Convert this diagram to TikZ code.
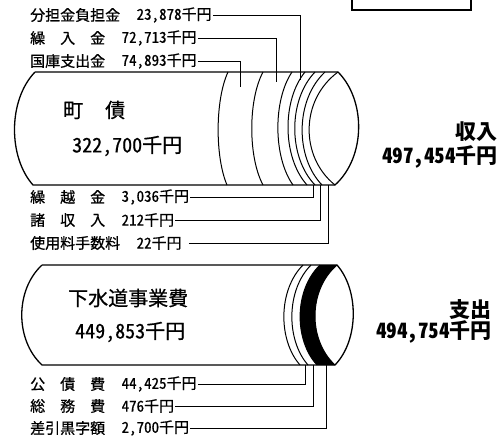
\documentclass[tikz,border=0pt]{standalone}
\usepackage{fontspec}
\setmainfont{Noto Sans CJK JP}[RawFeature=+hwid]
\newfontfamily\inkfont{Noto Sans CJK JP}[RawFeature=+hwid,FakeBold=0.7]
\usetikzlibrary{positioning}

\begin{document}
\begin{tikzpicture}[x=1pt,y=-1pt]
\tikzset{shell/.style={line width=1.3pt,line join=round}}
\tikzset{band/.style={line width=1pt}}
\tikzset{lead/.style={line width=0.8pt}}
\tikzset{item/.style={anchor=west,inner sep=0pt,font=\inkfont\fontsize{15}{15}\selectfont}}
\tikzset{amount/.style={inner ysep=0pt,inner xsep=1pt,font=\inkfont\fontsize{15}{15}\selectfont}}
\tikzset{big/.style={inner sep=0pt,font=\inkfont\fontsize{20}{20}\selectfont}}
\tikzset{total/.style={anchor=east,inner sep=0pt,font=\fontsize{21}{21}\selectfont\bfseries}}

\useasboundingbox (0,0) rectangle (500,440);

\draw[line width=1.5pt] (352,0) -- (352,10) -- (471,10) -- (471,0);

\draw[shell] (35,72) -- (338,72) .. controls (366,100) and (366,157) .. (335,185)
  -- (33,185) .. controls (8,157) and (8,100) .. (35,72);
\draw[band] (228,72) .. controls (215,100) and (215,157) .. (227,185);
\draw[band] (263,72) .. controls (248,100) and (248,157) .. (263,185);
\draw[band] (292,72) .. controls (273,100) and (273,157) .. (293,185);
\draw[band] (305,72) .. controls (282,100) and (282,157) .. (307,185);
\draw[band] (315,72) .. controls (288,100) and (288,157) .. (315,185);
\draw[band] (325,72) .. controls (295,100) and (295,157) .. (322,185);
\draw[band] (338,72) .. controls (300,100) and (300,157) .. (335,185);

\draw[shell] (42,265) -- (337,265) .. controls (359,290) and (359,340) .. (335,365)
  -- (42,365) .. controls (15,340) and (15,290) .. (42,265);
\fill (320,265) .. controls (294,290) and (294,340) .. (317,365)
  -- (335,365) .. controls (308,340) and (308,290) .. (337,265) -- cycle;
\draw[band] (303,265) .. controls (278,290) and (278,340) .. (300,365);
\draw[band] (311,265) .. controls (286,290) and (286,340) .. (308,365);
\draw[band] (320,265) .. controls (294,290) and (294,340) .. (317,365);
\draw[band] (337,265) .. controls (308,290) and (308,340) .. (335,365);

\node[big,anchor=west] (chosai) at (63,110) {\makebox[62pt]{町\hfill{}債}};
\node[big,anchor=west] (chosaiv) at (72,146) {322,700千円};
\node[big,anchor=west] (jigyo) at (68,298) {下水道事業費};
\node[big,anchor=west] (jigyov) at (75,332) {449,853千円};

\node[total] (shunyu) at (498,132) {収入};
\node[total] (shunyuv) at (498,157) {497,454千円};
\node[total] (shishutsu) at (492,310) {支出};
\node[total] (shishutsuv) at (492,332) {494,754千円};

\node[item] (futan) at (30,15) {分担金負担金};
\node[amount,right=15pt of futan] (futanv) {23,878千円};
\node[item] (kurii) at (30,38) {\makebox[75pt]{繰\hfill{}入\hfill{}金}};
\node[amount,right=15pt of kurii] (kuriiv) {72,713千円};
\node[item] (kokko) at (30,61) {国庫支出金};
\node[amount,right=15pt of kokko] (kokkov) {74,893千円};

\node[item] (kurikoshi) at (30,197) {\makebox[75pt]{繰\hfill{}越\hfill{}金}};
\node[amount,right=15pt of kurikoshi] (kurikoshiv) {3,036千円};
\node[item] (shoshu) at (30,220) {\makebox[75pt]{諸\hfill{}収\hfill{}入}};
\node[amount,right=15pt of shoshu] (shoshuv) {212千円};
\node[item] (shiyo) at (30,243) {使用料手数料};
\node[amount,right=15pt of shiyo] (shiyov) {22千円};

\node[item] (kosai) at (30,384) {\makebox[75pt]{公\hfill{}債\hfill{}費}};
\node[amount,right=15pt of kosai] (kosaiv) {44,425千円};
\node[item] (somu) at (30,406) {\makebox[75pt]{総\hfill{}務\hfill{}費}};
\node[amount,right=15pt of somu] (somuv) {476千円};
\node[item] (sashi) at (30,428) {差引黒字額};
\node[amount,right=15pt of sashi] (sashiv) {2,700千円};

\coordinate (futanc) at (300,80);
\coordinate (kuriic) at (276,82);
\coordinate (kokkoc) at (240,87);
\coordinate (kurikoshic) at (313,185);
\coordinate (shoshuc) at (320,185);
\coordinate (shiyoc) at (328,185);
\coordinate (kosaic) at (305,365);
\coordinate (somuc) at (313,365);
\coordinate (sashic) at (326,365);

\draw[lead] (futanv.east) -| (futanc);
\draw[lead] (kuriiv.east) -| (kuriic);
\draw[lead] (kokkov.east) -| (kokkoc);
\draw[lead] (kurikoshiv.east) -| (kurikoshic);
\draw[lead] (shoshuv.east) -| (shoshuc);
\draw[lead] ([xshift=6pt]shiyov.east) -| (shiyoc);
\draw[lead] (kosaiv.east) -| (kosaic);
\draw[lead] (somuv.east) -| (somuc);
\draw[lead] (sashiv.east) -| (sashic);

\end{tikzpicture}
\end{document}
